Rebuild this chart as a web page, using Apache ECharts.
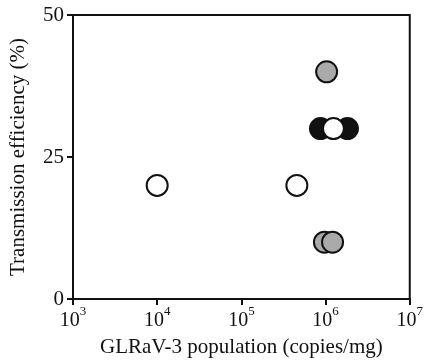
<!DOCTYPE html>
<html>
<head>
<meta charset="utf-8">
<script src="https://cdn.jsdelivr.net/npm/echarts@6/dist/echarts.min.js"></script>
<style>
  html, body { margin: 0; padding: 0; background: #fff; }
  #chart { width: 426px; height: 363px; }
</style>
</head>
<body>
<div id="chart"></div>
<script>
// [copies/mg, transmission %]
const grayPoints = [[1.03e6, 40], [0.97e6, 10], [1.21e6, 10]];
const blackPoints = [[0.87e6, 30], [1.82e6, 30]];
const whitePoints = [[1e4, 20], [4.56e5, 20], [1.24e6, 30]];
const yTicks = [0, 25, 50];
const xTitle = 'GLRaV-3 population (copies/mg)';
const yTitle = 'Transmission efficiency (%)';

const font = 'Liberation Serif, DejaVu Serif, serif';
const chart = echarts.init(document.getElementById('chart'), null, { renderer: 'canvas' });

function pointSeries(data, fill) {
  return {
    type: 'scatter',
    data,
    symbol: 'circle',
    symbolSize: 21,
    itemStyle: { color: fill, borderColor: '#111', borderWidth: 2, opacity: 1 },
    emphasis: { disabled: true },
  };
}

chart.setOption({
  animation: false,
  textStyle: { fontFamily: font },
  grid: {
    left: 72, right: 14, top: 15, bottom: 64,
    show: true, borderColor: '#111', borderWidth: 2, backgroundColor: 'transparent',
  },
  xAxis: {
    type: 'log',
    logBase: 10,
    min: 1e3,
    max: 1e7,
    name: xTitle,
    nameLocation: 'middle',
    nameGap: 38,
    nameTextStyle: { fontFamily: font, fontSize: 21, color: '#111' },
    axisLine: { lineStyle: { color: '#111', width: 2 } },
    axisTick: { length: 6, lineStyle: { color: '#111', width: 2 } },
    minorTick: { show: false },
    splitLine: { show: false },
    axisLabel: {
      margin: 6,
      fontFamily: font,
      formatter: v => '{b|10}{s|' + Math.round(Math.log10(v)) + '}',
      rich: {
        b: { fontFamily: font, fontSize: 20, color: '#111', verticalAlign: 'bottom', padding: [6, 0, 0, 0] },
        s: { fontFamily: font, fontSize: 13, color: '#111', verticalAlign: 'top', padding: [0, 0, 8, 0] },
      },
    },
  },
  yAxis: {
    type: 'value',
    min: yTicks[0],
    max: yTicks[yTicks.length - 1],
    interval: yTicks[1] - yTicks[0],
    name: yTitle,
    nameLocation: 'middle',
    nameGap: 44,
    nameTextStyle: { fontFamily: font, fontSize: 21, color: '#111' },
    axisLine: { show: true, lineStyle: { color: '#111', width: 2 } },
    axisTick: { show: true, length: 6, lineStyle: { color: '#111', width: 2 } },
    splitLine: { show: false },
    axisLabel: { margin: 9, fontFamily: font, fontSize: 21, color: '#111' },
  },
  series: [
    pointSeries(grayPoints, '#aaaaaa'),
    pointSeries(blackPoints, '#111111'),
    pointSeries(whitePoints, '#ffffff'),
  ],
});
</script>
</body>
</html>
